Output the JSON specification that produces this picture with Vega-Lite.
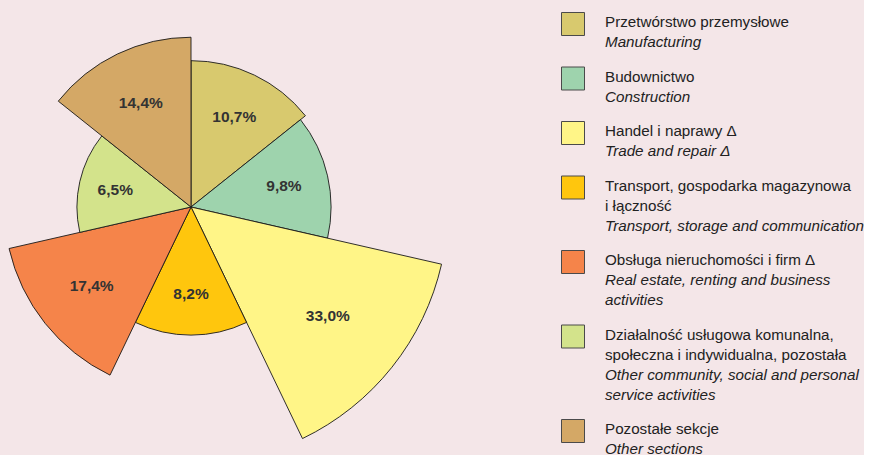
{
  "$schema": "https://vega.github.io/schema/vega-lite/v6.json",
  "background": "#F4E6E8",
  "padding": {"left": 0, "top": 10, "right": 0, "bottom": 0},
  "bounds": "flush",
  "config": {
    "view": {"stroke": null},
    "locale": {"number": {"decimal": ",", "thousands": " ", "grouping": [3], "currency": ["", " zł"]}}
  },
  "datasets": {
    "sectors": [
      {"k": 1, "sector": "Manufacturing", "share": 0.107},
      {"k": 2, "sector": "Construction", "share": 0.098},
      {"k": 3, "sector": "Trade and repair", "share": 0.330},
      {"k": 4, "sector": "Transport, storage and communication", "share": 0.082},
      {"k": 5, "sector": "Real estate, renting and business activities", "share": 0.174},
      {"k": 6, "sector": "Other community, social and personal service activities", "share": 0.065},
      {"k": 7, "sector": "Other sections", "share": 0.144}
    ],
    "legend": [
      {"k": 1, "ln": 0, "lang": "pl", "txt": "Przetwórstwo przemysłowe"},
      {"k": 1, "ln": 1, "lang": "en", "txt": "Manufacturing"},
      {"k": 2, "ln": 0, "lang": "pl", "txt": "Budownictwo"},
      {"k": 2, "ln": 1, "lang": "en", "txt": "Construction"},
      {"k": 3, "ln": 0, "lang": "pl", "txt": "Handel i naprawy Δ"},
      {"k": 3, "ln": 1, "lang": "en", "txt": "Trade and repair Δ"},
      {"k": 4, "ln": 0, "lang": "pl", "txt": "Transport, gospodarka magazynowa"},
      {"k": 4, "ln": 1, "lang": "pl", "txt": "i łączność"},
      {"k": 4, "ln": 2, "lang": "en", "txt": "Transport, storage and communication"},
      {"k": 5, "ln": 0, "lang": "pl", "txt": "Obsługa nieruchomości i firm Δ"},
      {"k": 5, "ln": 1, "lang": "en", "txt": "Real estate, renting and business"},
      {"k": 5, "ln": 2, "lang": "en", "txt": "activities"},
      {"k": 6, "ln": 0, "lang": "pl", "txt": "Działalność usługowa komunalna,"},
      {"k": 6, "ln": 1, "lang": "pl", "txt": "społeczna i indywidualna, pozostała"},
      {"k": 6, "ln": 2, "lang": "en", "txt": "Other community, social and personal"},
      {"k": 6, "ln": 3, "lang": "en", "txt": "service activities"},
      {"k": 7, "ln": 0, "lang": "pl", "txt": "Pozostałe sekcje"},
      {"k": 7, "ln": 1, "lang": "en", "txt": "Other sections"}
    ]
  },
  "spacing": 191,
  "hconcat": [
    {
      "width": 382,
      "height": 386,
      "data": {"name": "sectors"},
      "transform": [
        {"aggregate": [{"op": "count", "as": "n"}], "groupby": ["k", "share"]},
        {"stack": "n", "groupby": [], "sort": [{"field": "k", "order": "ascending"}], "as": ["t0", "t1"]}
      ],
      "layer": [
        {
          "mark": {"type": "arc", "stroke": "#1a1a1a", "strokeWidth": 0.9},
          "encoding": {
            "theta": {"field": "t0", "type": "quantitative", "stack": null, "scale": {"domain": [0, 7], "range": [0, 6.283185307], "nice": false, "zero": false}},
            "theta2": {"field": "t1"},
            "radius": {"field": "share", "type": "quantitative", "scale": {"type": "sqrt", "domain": [0, 0.33], "range": [0, 257], "zero": true}},
            "color": {
              "field": "k", "type": "nominal", "legend": null,
              "scale": {"domain": [1, 2, 3, 4, 5, 6, 7], "range": ["#D8C96E", "#9ED3AD", "#FFF587", "#FFC60D", "#F5844A", "#D3E38B", "#D4A866"]}
            }
          }
        },
        {
          "mark": {"type": "text", "font": "'Liberation Sans', Arial, sans-serif", "fontSize": 15.5, "fontWeight": "bold", "fill": "#333333"},
          "encoding": {
            "theta": {"field": "t0", "type": "quantitative", "stack": null, "scale": {"domain": [-0.5, 6.5], "range": [0, 6.283185307], "nice": false, "zero": false}},
            "radius": {"field": "share", "type": "quantitative", "scale": {"type": "sqrt", "domain": [0, 0.33], "range": [0, 175], "zero": true}},
            "text": {"field": "share", "type": "quantitative", "format": ".1%"}
          }
        }
      ],
      "resolve": {"scale": {"radius": "independent", "theta": "independent"}}
    },
    {
      "data": {"name": "legend"},
      "facet": {"row": {"field": "k", "type": "ordinal", "header": null, "title": null}},
      "spacing": 14.5,
      "bounds": "flush",
      "resolve": {"scale": {"y": "independent"}},
      "spec": {
        "width": 290,
        "height": {"step": 20},
        "encoding": {
          "y": {"field": "ln", "type": "ordinal", "axis": null}
        },
        "layer": [
          {
            "transform": [{"filter": "datum.ln === 0"}],
            "mark": {"type": "point", "shape": "square", "size": 529, "filled": true, "stroke": "#4a4a4a", "strokeWidth": 1, "opacity": 1},
            "encoding": {
              "x": {"datum": 0, "type": "quantitative", "scale": {"domain": [0, 1], "range": [0, 32], "nice": false, "zero": false}, "axis": null},
              "color": {
                "field": "k", "type": "nominal", "legend": null,
                "scale": {"domain": [1, 2, 3, 4, 5, 6, 7], "range": ["#D8C96E", "#9ED3AD", "#FFF587", "#FFC60D", "#F5844A", "#D3E38B", "#D4A866"]}
              }
            }
          },
          {
            "transform": [{"filter": "datum.lang === 'pl'"}],
            "mark": {"type": "text", "align": "left", "baseline": "alphabetic", "dy": 3, "font": "'Liberation Sans', Arial, sans-serif", "fontSize": 15.2, "fill": "#222222"},
            "encoding": {
              "x": {"datum": 1, "type": "quantitative", "axis": null},
              "text": {"field": "txt", "type": "nominal"}
            }
          },
          {
            "transform": [{"filter": "datum.lang === 'en'"}],
            "mark": {"type": "text", "align": "left", "baseline": "alphabetic", "dy": 3, "font": "'Liberation Sans', Arial, sans-serif", "fontSize": 15.2, "fontStyle": "italic", "fill": "#222222"},
            "encoding": {
              "x": {"datum": 1, "type": "quantitative", "axis": null},
              "text": {"field": "txt", "type": "nominal"}
            }
          }
        ]
      }
    }
  ]
}
